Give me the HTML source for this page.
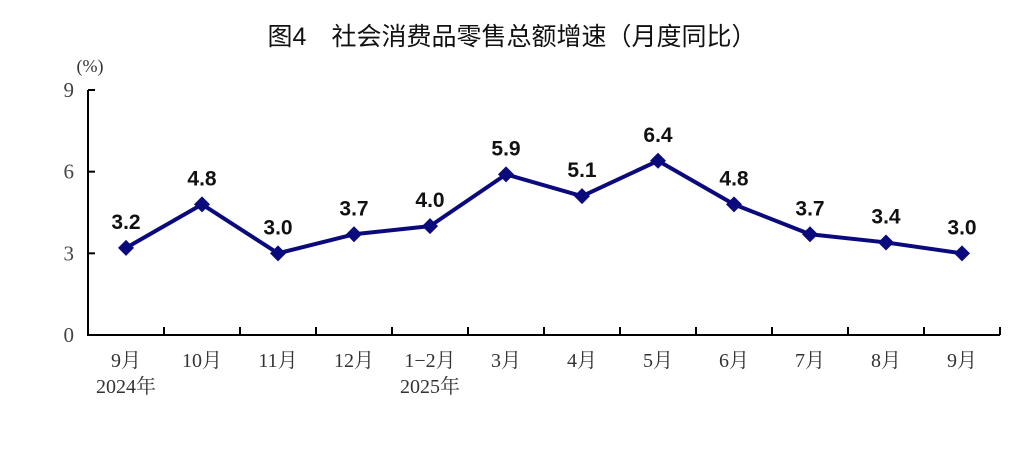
<!DOCTYPE html>
<html><head><meta charset="utf-8"><style>
body{margin:0;background:#fff;}
svg{display:block;}
</style></head><body>
<svg id="chart" width="1024" height="471">
<text x="512" y="45" text-anchor="middle" font-size="25" font-family="'Liberation Sans','Noto Sans CJK SC',sans-serif" fill="#111">图4　社会消费品零售总额增速（月度同比）</text>
<text x="90" y="72" text-anchor="middle" font-size="18" font-family="'Liberation Serif','Noto Serif CJK SC',serif" fill="#333">(%)</text>
<g id="axes"></g>
<g id="series"></g>
</svg>
<script>
const categories=["9月","10月","11月","12月","1−2月","3月","4月","5月","6月","7月","8月","9月"];
const yearLabels=["2024年","","","","2025年","","","","","","",""];
const values=[3.2,4.8,3.0,3.7,4.0,5.9,5.1,6.4,4.8,3.7,3.4,3.0];
const yTicks=[0,3,6,9];
const NS="http://www.w3.org/2000/svg";
const x0=88,step=76,yBase=335,yTop=90,yMax=9;
function xs(i){return x0+step*(i+0.5);}
function ys(v){return yBase-(yBase-yTop)*v/yMax;}
function mk(tag,attrs,parent,text){const e=document.createElementNS(NS,tag);for(const k in attrs)e.setAttribute(k,attrs[k]);if(text!==undefined)e.textContent=text;parent.appendChild(e);return e;}
const ax=document.getElementById('axes'),se=document.getElementById('series');
const serif="'Liberation Serif','Noto Serif CJK SC',serif";
const navy='#0a0a7c';
let l=mk('line',{x1:x0,y1:yTop,x2:x0,y2:yBase,stroke:'#000','stroke-width':2},ax);


l=mk('line',{x1:x0-1,y1:yBase,x2:x0+step*categories.length,y2:yBase,stroke:'#000','stroke-width':2},ax);


yTicks.forEach(v=>{
 const t=mk('line',{x1:x0,y1:ys(v),x2:x0+7,y2:ys(v),stroke:'#000','stroke-width':2},ax);
 
 
 const tx=mk('text',{x:74,y:ys(v)+7,'text-anchor':'end','font-size':21,'font-family':serif,fill:'#444'},ax,String(v));
 
 
});
for(let i=1;i<=categories.length;i++){
 const t=mk('line',{x1:x0+step*i,y1:yBase,x2:x0+step*i,y2:yBase-8,stroke:'#000','stroke-width':2},ax);
 
 
}
categories.forEach((c,i)=>{
 const t=mk('text',{x:xs(i),y:367,'text-anchor':'middle','font-size':20,'font-family':serif,fill:'#333'},ax,c);
 
 
 if(yearLabels[i]){
  const y=mk('text',{x:xs(i),y:393,'text-anchor':'middle','font-size':20,'font-family':serif,fill:'#333'},ax,yearLabels[i]);
  
  
 }
});
const pl=mk('polyline',{points:values.map((v,i)=>xs(i)+','+ys(v)).join(' '),fill:'none',stroke:navy,'stroke-width':4,'stroke-linejoin':'round'},se);


values.forEach((v,i)=>{
 const x=xs(i),y=ys(v),s=8;
 const p=mk('polygon',{points:`${x},${y-s} ${x+s},${y} ${x},${y+s} ${x-s},${y}`,fill:navy},se);
 
 
 const t=mk('text',{x:x,y:y-19,'text-anchor':'middle','font-size':21,'font-weight':'bold','font-family':"'Liberation Sans',sans-serif",fill:'#111'},se,v.toFixed(1));
 
 
});
</script>
</body></html>
